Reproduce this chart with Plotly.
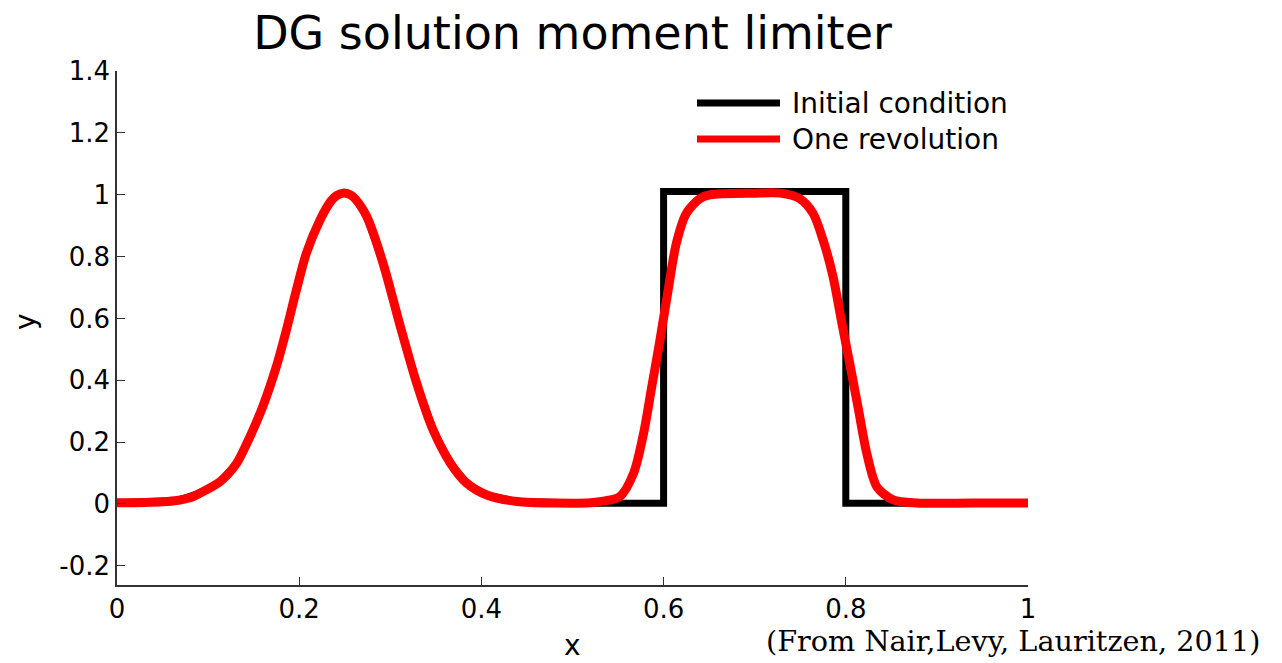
import plotly.graph_objects as go

# Initial condition: Gaussian hill (hidden under the red curve) + square wave
init_x = [0.0, 0.03, 0.066, 0.091, 0.113, 0.131, 0.146, 0.160, 0.175, 0.186,
          0.197, 0.208, 0.223, 0.235, 0.241, 0.248, 0.256, 0.262, 0.274, 0.292,
          0.311, 0.329, 0.347, 0.366, 0.384, 0.406, 0.439, 0.482, 0.52,
          0.6, 0.6, 0.8, 0.8, 1.0]
init_y = [0.004, 0.005, 0.011, 0.035, 0.072, 0.13, 0.218, 0.315, 0.445, 0.563,
          0.693, 0.812, 0.919, 0.98, 0.997, 1.005, 1.0, 0.985, 0.93, 0.779,
          0.574, 0.390, 0.239, 0.132, 0.067, 0.029, 0.008, 0.003, 0.002,
          0.002, 1.01, 1.01, 0.002, 0.002]

# One revolution (DG solution with moment limiter)
rev_x = [0.0, 0.03, 0.05, 0.066, 0.08, 0.091, 0.113, 0.131, 0.146, 0.160, 0.175, 0.186,
         0.197, 0.208, 0.223, 0.235, 0.241, 0.248, 0.256, 0.262, 0.274, 0.292,
         0.311, 0.329, 0.347, 0.366, 0.384, 0.406, 0.439, 0.482, 0.52, 0.530,
         0.552, 0.567, 0.578, 0.587, 0.596, 0.605, 0.614, 0.625, 0.640, 0.651,
         0.70, 0.728, 0.749, 0.764, 0.775, 0.786, 0.795, 0.805, 0.814, 0.823,
         0.834, 0.852, 0.878, 0.94, 1.0]
rev_y = [0.004, 0.005, 0.007, 0.011, 0.02, 0.035, 0.072, 0.13, 0.218, 0.315, 0.445, 0.563,
         0.693, 0.812, 0.919, 0.98, 0.997, 1.005, 1.0, 0.985, 0.93, 0.779,
         0.574, 0.390, 0.239, 0.132, 0.067, 0.029, 0.008, 0.003, 0.004, 0.0075,
         0.024, 0.099, 0.228, 0.379, 0.530, 0.692, 0.843, 0.940, 0.988, 1.0,
         1.005, 1.005, 0.988, 0.94, 0.854, 0.735, 0.595, 0.444, 0.304, 0.164,
         0.056, 0.013, 0.003, 0.003, 0.003]

x_ticks = [0, 0.2, 0.4, 0.6, 0.8, 1]
x_ticktext = ["0", "0.2", "0.4", "0.6", "0.8", "1"]
y_ticks = [-0.2, 0, 0.2, 0.4, 0.6, 0.8, 1, 1.2, 1.4]
y_ticktext = ["-0.2", "0", "0.2", "0.4", "0.6", "0.8", "1", "1.2", "1.4"]

legend_names = ["Initial condition", "One revolution"]
legend_colors = ["#000000", "#ff0000"]

fig = go.Figure()
fig.add_trace(go.Scatter(x=init_x, y=init_y, mode="lines",
                         line=dict(color="#000000", width=7),
                         name=legend_names[0], showlegend=False))
fig.add_trace(go.Scatter(x=rev_x, y=rev_y, mode="lines",
                         line=dict(color="#ff0000", width=9, shape="spline", smoothing=0.8),
                         name=legend_names[1], showlegend=False))

axis_font = dict(family="DejaVu Sans", size=26, color="#000000")

fig.update_layout(
    width=1282, height=663,
    margin=dict(l=117, r=254, t=71, b=78, autoexpand=False),
    paper_bgcolor="white", plot_bgcolor="white",
    title=dict(text="DG solution moment limiter", x=0.5, xref="paper",
               y=1 - 33 / 663, yref="container", yanchor="middle", xanchor="center",
               font=dict(family="DejaVu Sans", size=46, color="#000000")),
    xaxis=dict(range=[0, 1], tickvals=x_ticks, ticktext=x_ticktext,
               ticks="inside", ticklen=8, tickcolor="#333333", tickwidth=1,
               showline=True, linecolor="#333333", linewidth=1.5,
               showgrid=False, zeroline=False, mirror=False,
               tickfont=axis_font),
    yaxis=dict(range=[-0.262, 1.4], tickvals=y_ticks, ticktext=y_ticktext,
               ticks="inside", ticklen=8, tickcolor="#333333", tickwidth=1,
               showline=True, linecolor="#333333", linewidth=1.5,
               showgrid=False, zeroline=False, mirror=False,
               tickfont=axis_font),
    showlegend=False,
)

# Axis labels
fig.add_annotation(text="x", xref="paper", yref="paper", x=0.5, y=(585 - 645) / 514,
                   xanchor="center", yanchor="middle", showarrow=False,
                   font=dict(family="DejaVu Sans", size=28, color="#000000"))
fig.add_annotation(text="y", xref="paper", yref="paper", x=(25 - 117) / 911, y=(585 - 322) / 514,
                   xanchor="center", yanchor="middle", showarrow=False, textangle=-90,
                   font=dict(family="DejaVu Sans", size=28, color="#000000"))

# Manual legend
leg_y_px = [103, 139]
for name, col, ypx in zip(legend_names, legend_colors, leg_y_px):
    yp = (585 - ypx) / 514
    fig.add_shape(type="line", xref="paper", yref="paper",
                  x0=(697 - 117) / 911, x1=(780 - 117) / 911, y0=yp, y1=yp,
                  line=dict(color=col, width=7))
    fig.add_annotation(text=name, xref="paper", yref="paper",
                       x=(790 - 117) / 911, y=yp, xanchor="left", yanchor="middle",
                       showarrow=False,
                       font=dict(family="DejaVu Sans", size=28, color="#000000"))

# Source note
fig.add_annotation(text="(From Nair,Levy, Lauritzen, 2011)", xref="paper", yref="paper",
                   x=(1262 - 117) / 911, y=(585 - 641) / 514, xanchor="right", yanchor="middle",
                   showarrow=False,
                   font=dict(family="DejaVu Serif", size=28.7, color="#000000"))

fig.write_html("out.html")
